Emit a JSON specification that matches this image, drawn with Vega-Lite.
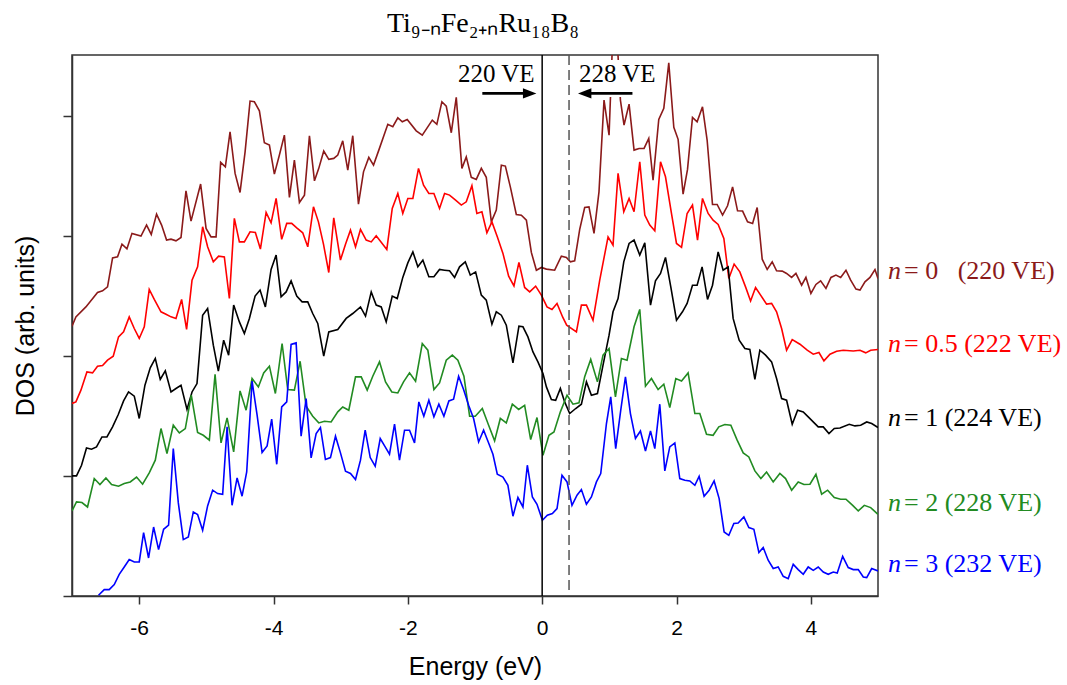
{
  "$schema": "https://vega.github.io/schema/vega-lite/v6.json",
  "width": 806,
  "height": 541,
  "autosize": "none",
  "padding": {"left": 72, "top": 55, "right": 189, "bottom": 89},
  "background": "white",
  "title": {"text": "Ti₉₋ₙFe₂₊ₙRu₁₈B₈", "font": "Liberation Serif", "fontSize": 28, "fontWeight": "normal", "color": "#000", "anchor": "middle", "offset": 16, "dx": 8},
  "config": {
    "view": {"stroke": "#333", "strokeWidth": 1.5},
    "axis": {"grid": false, "domainColor": "#333", "tickColor": "#333", "domainWidth": 1.5, "tickWidth": 1.5, "labelColor": "#000", "titleColor": "#000", "labelFont": "Liberation Sans", "titleFont": "Liberation Sans", "titleFontWeight": "normal"}
  },
  "datasets": {
    "dos": [
      {"n":"0","E":-7.0,"DOS":2.249},{"n":"0","E":-6.942,"DOS":2.327},{"n":"0","E":-6.793,"DOS":2.41},{"n":"0","E":-6.62,"DOS":2.53},{"n":"0","E":-6.545,"DOS":2.544},{"n":"0","E":-6.471,"DOS":2.577},{"n":"0","E":-6.396,"DOS":2.819},{"n":"0","E":-6.322,"DOS":2.827},{"n":"0","E":-6.256,"DOS":2.933},{"n":"0","E":-6.182,"DOS":2.894},{"n":"0","E":-6.107,"DOS":3.023},{"n":"0","E":-5.973,"DOS":3.0},{"n":"0","E":-5.89,"DOS":3.092},{"n":"0","E":-5.82,"DOS":3.014},{"n":"0","E":-5.741,"DOS":3.184},{"n":"0","E":-5.666,"DOS":3.092},{"n":"0","E":-5.592,"DOS":2.967},{"n":"0","E":-5.526,"DOS":2.975},{"n":"0","E":-5.452,"DOS":2.961},{"n":"0","E":-5.377,"DOS":2.989},{"n":"0","E":-5.303,"DOS":3.378},{"n":"0","E":-5.228,"DOS":3.125},{"n":"0","E":-5.085,"DOS":3.434},{"n":"0","E":-5.004,"DOS":3.064},{"n":"0","E":-4.93,"DOS":2.994},{"n":"0","E":-4.855,"DOS":2.994},{"n":"0","E":-4.787,"DOS":3.615},{"n":"0","E":-4.717,"DOS":3.578},{"n":"0","E":-4.647,"DOS":3.87},{"n":"0","E":-4.572,"DOS":3.523},{"n":"0","E":-4.498,"DOS":3.364},{"n":"0","E":-4.423,"DOS":3.703},{"n":"0","E":-4.349,"DOS":4.126},{"n":"0","E":-4.285,"DOS":4.12},{"n":"0","E":-4.21,"DOS":4.045},{"n":"0","E":-4.136,"DOS":3.778},{"n":"0","E":-4.061,"DOS":3.759},{"n":"0","E":-3.987,"DOS":3.517},{"n":"0","E":-3.912,"DOS":3.676},{"n":"0","E":-3.838,"DOS":3.842},{"n":"0","E":-3.763,"DOS":3.323},{"n":"0","E":-3.689,"DOS":3.634},{"n":"0","E":-3.614,"DOS":3.281},{"n":"0","E":-3.539,"DOS":3.342},{"n":"0","E":-3.465,"DOS":3.837},{"n":"0","E":-3.39,"DOS":3.461},{"n":"0","E":-3.326,"DOS":3.565},{"n":"0","E":-3.252,"DOS":3.709},{"n":"0","E":-3.177,"DOS":3.64},{"n":"0","E":-3.103,"DOS":3.648},{"n":"0","E":-3.043,"DOS":3.676},{"n":"0","E":-2.969,"DOS":3.795},{"n":"0","E":-2.894,"DOS":3.55},{"n":"0","E":-2.82,"DOS":3.837},{"n":"0","E":-2.735,"DOS":3.267},{"n":"0","E":-2.66,"DOS":3.536},{"n":"0","E":-2.581,"DOS":3.656},{"n":"0","E":-2.511,"DOS":3.592},{"n":"0","E":-2.432,"DOS":3.717},{"n":"0","E":-2.298,"DOS":3.932},{"n":"0","E":-2.224,"DOS":3.912},{"n":"0","E":-2.149,"DOS":3.987},{"n":"0","E":-2.083,"DOS":3.953},{"n":"0","E":-2.009,"DOS":3.973},{"n":"0","E":-1.875,"DOS":3.878},{"n":"0","E":-1.785,"DOS":3.842},{"n":"0","E":-1.636,"DOS":3.967},{"n":"0","E":-1.568,"DOS":3.932},{"n":"0","E":-1.493,"DOS":4.12},{"n":"0","E":-1.428,"DOS":4.084},{"n":"0","E":-1.353,"DOS":3.862},{"n":"0","E":-1.279,"DOS":4.157},{"n":"0","E":-1.195,"DOS":3.565},{"n":"0","E":-1.13,"DOS":3.661},{"n":"0","E":-1.055,"DOS":3.49},{"n":"0","E":-0.981,"DOS":3.473},{"n":"0","E":-0.906,"DOS":3.565},{"n":"0","E":-0.832,"DOS":3.49},{"n":"0","E":-0.757,"DOS":3.119},{"n":"0","E":-0.683,"DOS":3.217},{"n":"0","E":-0.608,"DOS":3.592},{"n":"0","E":-0.548,"DOS":3.584},{"n":"0","E":-0.474,"DOS":3.411},{"n":"0","E":-0.385,"DOS":3.181},{"n":"0","E":-0.31,"DOS":3.175},{"n":"0","E":-0.235,"DOS":3.133},{"n":"0","E":-0.161,"DOS":2.864},{"n":"0","E":-0.086,"DOS":2.716},{"n":"0","E":-0.012,"DOS":2.739},{"n":"0","E":0.063,"DOS":2.725},{"n":"0","E":0.186,"DOS":2.716},{"n":"0","E":0.286,"DOS":2.833},{"n":"0","E":0.361,"DOS":2.822},{"n":"0","E":0.42,"DOS":2.786},{"n":"0","E":0.484,"DOS":2.794},{"n":"0","E":0.559,"DOS":3.056},{"n":"0","E":0.633,"DOS":3.239},{"n":"0","E":0.697,"DOS":3.244},{"n":"0","E":0.772,"DOS":3.023},{"n":"0","E":0.846,"DOS":3.369},{"n":"0","E":0.921,"DOS":4.134},{"n":"0","E":0.996,"DOS":3.842},{"n":"0","E":1.043,"DOS":4.551},{"n":"0","E":1.125,"DOS":4.551},{"n":"0","E":1.165,"DOS":4.134},{"n":"0","E":1.219,"DOS":3.926},{"n":"0","E":1.294,"DOS":4.101},{"n":"0","E":1.368,"DOS":3.717},{"n":"0","E":1.443,"DOS":3.731},{"n":"0","E":1.517,"DOS":3.731},{"n":"0","E":1.587,"DOS":3.815},{"n":"0","E":1.651,"DOS":3.467},{"n":"0","E":1.736,"DOS":3.973},{"n":"0","E":1.811,"DOS":4.065},{"n":"0","E":1.885,"DOS":4.445},{"n":"0","E":1.96,"DOS":3.907},{"n":"0","E":2.024,"DOS":3.807},{"n":"0","E":2.098,"DOS":3.35},{"n":"0","E":2.164,"DOS":3.556},{"n":"0","E":2.238,"DOS":3.99},{"n":"0","E":2.307,"DOS":3.953},{"n":"0","E":2.387,"DOS":4.078},{"n":"0","E":2.456,"DOS":3.801},{"n":"0","E":2.536,"DOS":3.264},{"n":"0","E":2.605,"DOS":3.264},{"n":"0","E":2.686,"DOS":3.175},{"n":"0","E":2.76,"DOS":3.253},{"n":"0","E":2.835,"DOS":3.411},{"n":"0","E":2.909,"DOS":3.211},{"n":"0","E":2.984,"DOS":3.209},{"n":"0","E":3.058,"DOS":3.119},{"n":"0","E":3.133,"DOS":3.106},{"n":"0","E":3.201,"DOS":3.239},{"n":"0","E":3.276,"DOS":2.808},{"n":"0","E":3.35,"DOS":2.722},{"n":"0","E":3.425,"DOS":2.786},{"n":"0","E":3.49,"DOS":2.711},{"n":"0","E":3.574,"DOS":2.708},{"n":"0","E":3.639,"DOS":2.689},{"n":"0","E":3.714,"DOS":2.656},{"n":"0","E":3.778,"DOS":2.689},{"n":"0","E":3.863,"DOS":2.591},{"n":"0","E":3.927,"DOS":2.656},{"n":"0","E":4.001,"DOS":2.522},{"n":"0","E":4.076,"DOS":2.597},{"n":"0","E":4.146,"DOS":2.627},{"n":"0","E":4.225,"DOS":2.564},{"n":"0","E":4.3,"DOS":2.656},{"n":"0","E":4.374,"DOS":2.675},{"n":"0","E":4.444,"DOS":2.656},{"n":"0","E":4.523,"DOS":2.716},{"n":"0","E":4.593,"DOS":2.633},{"n":"0","E":4.672,"DOS":2.558},{"n":"0","E":4.732,"DOS":2.55},{"n":"0","E":4.806,"DOS":2.619},{"n":"0","E":4.881,"DOS":2.656},{"n":"0","E":4.955,"DOS":2.722},{"n":"0","E":5.0,"DOS":2.647},

      {"n":"0.5","E":-7.0,"DOS":1.605},{"n":"0.5","E":-6.942,"DOS":1.618},{"n":"0.5","E":-6.867,"DOS":1.716},{"n":"0.5","E":-6.778,"DOS":1.868},{"n":"0.5","E":-6.694,"DOS":1.86},{"n":"0.5","E":-6.62,"DOS":1.916},{"n":"0.5","E":-6.545,"DOS":1.922},{"n":"0.5","E":-6.471,"DOS":1.966},{"n":"0.5","E":-6.386,"DOS":1.999},{"n":"0.5","E":-6.307,"DOS":2.16},{"n":"0.5","E":-6.232,"DOS":2.202},{"n":"0.5","E":-6.148,"DOS":2.327},{"n":"0.5","E":-6.073,"DOS":2.23},{"n":"0.5","E":-5.999,"DOS":2.147},{"n":"0.5","E":-5.924,"DOS":2.244},{"n":"0.5","E":-5.85,"DOS":2.555},{"n":"0.5","E":-5.775,"DOS":2.472},{"n":"0.5","E":-5.675,"DOS":2.369},{"n":"0.5","E":-5.601,"DOS":2.349},{"n":"0.5","E":-5.526,"DOS":2.327},{"n":"0.5","E":-5.452,"DOS":2.314},{"n":"0.5","E":-5.368,"DOS":2.472},{"n":"0.5","E":-5.294,"DOS":2.222},{"n":"0.5","E":-5.213,"DOS":2.633},{"n":"0.5","E":-5.13,"DOS":2.744},{"n":"0.5","E":-5.055,"DOS":3.078},{"n":"0.5","E":-4.981,"DOS":2.911},{"n":"0.5","E":-4.896,"DOS":2.786},{"n":"0.5","E":-4.817,"DOS":2.833},{"n":"0.5","E":-4.732,"DOS":2.827},{"n":"0.5","E":-4.657,"DOS":2.48},{"n":"0.5","E":-4.583,"DOS":3.148},{"n":"0.5","E":-4.508,"DOS":2.952},{"n":"0.5","E":-4.434,"DOS":2.952},{"n":"0.5","E":-4.349,"DOS":3.036},{"n":"0.5","E":-4.27,"DOS":3.031},{"n":"0.5","E":-4.195,"DOS":2.892},{"n":"0.5","E":-4.11,"DOS":3.198},{"n":"0.5","E":-4.036,"DOS":3.111},{"n":"0.5","E":-3.961,"DOS":3.314},{"n":"0.5","E":-3.878,"DOS":2.973},{"n":"0.5","E":-3.803,"DOS":3.106},{"n":"0.5","E":-3.729,"DOS":3.106},{"n":"0.5","E":-3.654,"DOS":3.069},{"n":"0.5","E":-3.565,"DOS":3.028},{"n":"0.5","E":-3.49,"DOS":2.911},{"n":"0.5","E":-3.405,"DOS":3.244},{"n":"0.5","E":-3.331,"DOS":3.119},{"n":"0.5","E":-3.256,"DOS":2.933},{"n":"0.5","E":-3.177,"DOS":2.697},{"n":"0.5","E":-3.103,"DOS":3.153},{"n":"0.5","E":-3.003,"DOS":2.8},{"n":"0.5","E":-2.928,"DOS":2.933},{"n":"0.5","E":-2.854,"DOS":3.05},{"n":"0.5","E":-2.779,"DOS":2.911},{"n":"0.5","E":-2.705,"DOS":3.056},{"n":"0.5","E":-2.62,"DOS":2.967},{"n":"0.5","E":-2.545,"DOS":2.952},{"n":"0.5","E":-2.471,"DOS":3.003},{"n":"0.5","E":-2.313,"DOS":2.889},{"n":"0.5","E":-2.232,"DOS":3.231},{"n":"0.5","E":-2.149,"DOS":3.356},{"n":"0.5","E":-2.075,"DOS":3.189},{"n":"0.5","E":-2.0,"DOS":3.314},{"n":"0.5","E":-1.925,"DOS":3.314},{"n":"0.5","E":-1.841,"DOS":3.565},{"n":"0.5","E":-1.766,"DOS":3.425},{"n":"0.5","E":-1.687,"DOS":3.356},{"n":"0.5","E":-1.612,"DOS":3.356},{"n":"0.5","E":-1.528,"DOS":3.231},{"n":"0.5","E":-1.453,"DOS":3.356},{"n":"0.5","E":-1.379,"DOS":3.342},{"n":"0.5","E":-1.289,"DOS":3.3},{"n":"0.5","E":-1.204,"DOS":3.259},{"n":"0.5","E":-1.13,"DOS":3.286},{"n":"0.5","E":-1.046,"DOS":3.42},{"n":"0.5","E":-0.972,"DOS":3.189},{"n":"0.5","E":-0.897,"DOS":3.203},{"n":"0.5","E":-0.823,"DOS":3.028},{"n":"0.5","E":-0.748,"DOS":3.119},{"n":"0.5","E":-0.668,"DOS":2.994},{"n":"0.5","E":-0.584,"DOS":2.856},{"n":"0.5","E":-0.499,"DOS":2.666},{"n":"0.5","E":-0.42,"DOS":2.585},{"n":"0.5","E":-0.346,"DOS":2.781},{"n":"0.5","E":-0.261,"DOS":2.572},{"n":"0.5","E":-0.186,"DOS":2.535},{"n":"0.5","E":-0.097,"DOS":2.583},{"n":"0.5","E":-0.012,"DOS":2.508},{"n":"0.5","E":0.072,"DOS":2.41},{"n":"0.5","E":0.146,"DOS":2.389},{"n":"0.5","E":0.221,"DOS":2.439},{"n":"0.5","E":0.306,"DOS":2.324},{"n":"0.5","E":0.365,"DOS":2.258},{"n":"0.5","E":0.51,"DOS":2.202},{"n":"0.5","E":0.584,"DOS":2.425},{"n":"0.5","E":0.659,"DOS":2.425},{"n":"0.5","E":0.757,"DOS":2.299},{"n":"0.5","E":0.857,"DOS":2.633},{"n":"0.5","E":0.981,"DOS":2.994},{"n":"0.5","E":1.055,"DOS":2.925},{"n":"0.5","E":1.13,"DOS":3.523},{"n":"0.5","E":1.215,"DOS":3.203},{"n":"0.5","E":1.294,"DOS":3.314},{"n":"0.5","E":1.368,"DOS":3.203},{"n":"0.5","E":1.453,"DOS":3.62},{"n":"0.5","E":1.528,"DOS":3.175},{"n":"0.5","E":1.602,"DOS":3.092},{"n":"0.5","E":1.677,"DOS":3.044},{"n":"0.5","E":1.762,"DOS":3.62},{"n":"0.5","E":1.836,"DOS":3.495},{"n":"0.5","E":1.925,"DOS":3.189},{"n":"0.5","E":2.0,"DOS":2.939},{"n":"0.5","E":2.075,"DOS":2.906},{"n":"0.5","E":2.158,"DOS":3.189},{"n":"0.5","E":2.238,"DOS":3.259},{"n":"0.5","E":2.313,"DOS":2.967},{"n":"0.5","E":2.387,"DOS":3.314},{"n":"0.5","E":2.471,"DOS":3.189},{"n":"0.5","E":2.545,"DOS":3.133},{"n":"0.5","E":2.62,"DOS":3.098},{"n":"0.5","E":2.705,"DOS":2.981},{"n":"0.5","E":2.779,"DOS":2.647},{"n":"0.5","E":2.858,"DOS":2.767},{"n":"0.5","E":2.943,"DOS":2.702},{"n":"0.5","E":3.028,"DOS":2.577},{"n":"0.5","E":3.103,"DOS":2.46},{"n":"0.5","E":3.177,"DOS":2.572},{"n":"0.5","E":3.252,"DOS":2.508},{"n":"0.5","E":3.341,"DOS":2.433},{"n":"0.5","E":3.416,"DOS":2.439},{"n":"0.5","E":3.49,"DOS":2.369},{"n":"0.5","E":3.565,"DOS":2.23},{"n":"0.5","E":3.639,"DOS":2.049},{"n":"0.5","E":3.723,"DOS":2.138},{"n":"0.5","E":3.838,"DOS":2.099},{"n":"0.5","E":3.946,"DOS":2.049},{"n":"0.5","E":4.036,"DOS":2.016},{"n":"0.5","E":4.121,"DOS":2.03},{"n":"0.5","E":4.195,"DOS":1.96},{"n":"0.5","E":4.285,"DOS":2.016},{"n":"0.5","E":4.384,"DOS":2.041},{"n":"0.5","E":4.483,"DOS":2.049},{"n":"0.5","E":4.632,"DOS":2.043},{"n":"0.5","E":4.732,"DOS":2.049},{"n":"0.5","E":4.817,"DOS":2.027},{"n":"0.5","E":4.891,"DOS":2.049},{"n":"0.5","E":5.0,"DOS":2.055},

      {"n":"1","E":-7.0,"DOS":1.001},{"n":"1","E":-6.933,"DOS":1.001},{"n":"1","E":-6.858,"DOS":1.09},{"n":"1","E":-6.784,"DOS":1.234},{"n":"1","E":-6.709,"DOS":1.224},{"n":"1","E":-6.635,"DOS":1.243},{"n":"1","E":-6.554,"DOS":1.326},{"n":"1","E":-6.48,"DOS":1.326},{"n":"1","E":-6.396,"DOS":1.41},{"n":"1","E":-6.311,"DOS":1.513},{"n":"1","E":-6.232,"DOS":1.626},{"n":"1","E":-6.158,"DOS":1.701},{"n":"1","E":-6.073,"DOS":1.666},{"n":"1","E":-5.999,"DOS":1.48},{"n":"1","E":-5.914,"DOS":1.757},{"n":"1","E":-5.835,"DOS":1.902},{"n":"1","E":-5.76,"DOS":1.98},{"n":"1","E":-5.686,"DOS":1.805},{"n":"1","E":-5.611,"DOS":1.877},{"n":"1","E":-5.526,"DOS":1.701},{"n":"1","E":-5.452,"DOS":1.73},{"n":"1","E":-5.377,"DOS":1.757},{"n":"1","E":-5.288,"DOS":1.555},{"n":"1","E":-5.213,"DOS":1.701},{"n":"1","E":-5.139,"DOS":1.771},{"n":"1","E":-5.055,"DOS":2.341},{"n":"1","E":-4.981,"DOS":2.397},{"n":"1","E":-4.896,"DOS":2.091},{"n":"1","E":-4.821,"DOS":1.874},{"n":"1","E":-4.742,"DOS":2.133},{"n":"1","E":-4.668,"DOS":2.008},{"n":"1","E":-4.593,"DOS":2.425},{"n":"1","E":-4.508,"DOS":2.285},{"n":"1","E":-4.434,"DOS":2.188},{"n":"1","E":-4.359,"DOS":2.314},{"n":"1","E":-4.274,"DOS":2.5},{"n":"1","E":-4.2,"DOS":2.55},{"n":"1","E":-4.121,"DOS":2.41},{"n":"1","E":-4.036,"DOS":2.722},{"n":"1","E":-3.961,"DOS":2.842},{"n":"1","E":-3.887,"DOS":2.494},{"n":"1","E":-3.812,"DOS":2.535},{"n":"1","E":-3.738,"DOS":2.627},{"n":"1","E":-3.654,"DOS":2.5},{"n":"1","E":-3.574,"DOS":2.452},{"n":"1","E":-3.49,"DOS":2.452},{"n":"1","E":-3.416,"DOS":2.355},{"n":"1","E":-3.341,"DOS":2.272},{"n":"1","E":-3.252,"DOS":1.999},{"n":"1","E":-3.177,"DOS":2.202},{"n":"1","E":-3.043,"DOS":2.222},{"n":"1","E":-2.918,"DOS":2.314},{"n":"1","E":-2.82,"DOS":2.355},{"n":"1","E":-2.705,"DOS":2.41},{"n":"1","E":-2.63,"DOS":2.333},{"n":"1","E":-2.545,"DOS":2.535},{"n":"1","E":-2.471,"DOS":2.425},{"n":"1","E":-2.396,"DOS":2.41},{"n":"1","E":-2.322,"DOS":2.285},{"n":"1","E":-2.232,"DOS":2.5},{"n":"1","E":-2.158,"DOS":2.48},{"n":"1","E":-2.075,"DOS":2.656},{"n":"1","E":-2.0,"DOS":2.777},{"n":"1","E":-1.925,"DOS":2.869},{"n":"1","E":-1.851,"DOS":2.744},{"n":"1","E":-1.776,"DOS":2.8},{"n":"1","E":-1.687,"DOS":2.661},{"n":"1","E":-1.612,"DOS":2.661},{"n":"1","E":-1.528,"DOS":2.722},{"n":"1","E":-1.453,"DOS":2.716},{"n":"1","E":-1.379,"DOS":2.711},{"n":"1","E":-1.304,"DOS":2.656},{"n":"1","E":-1.23,"DOS":2.744},{"n":"1","E":-1.145,"DOS":2.786},{"n":"1","E":-1.07,"DOS":2.675},{"n":"1","E":-0.991,"DOS":2.702},{"n":"1","E":-0.906,"DOS":2.508},{"n":"1","E":-0.832,"DOS":2.466},{"n":"1","E":-0.748,"DOS":2.266},{"n":"1","E":-0.683,"DOS":2.369},{"n":"1","E":-0.608,"DOS":2.341},{"n":"1","E":-0.534,"DOS":2.258},{"n":"1","E":-0.435,"DOS":1.943},{"n":"1","E":-0.346,"DOS":2.249},{"n":"1","E":-0.286,"DOS":2.244},{"n":"1","E":-0.212,"DOS":2.16},{"n":"1","E":-0.137,"DOS":2.035},{"n":"1","E":-0.063,"DOS":1.952},{"n":"1","E":0.012,"DOS":1.855},{"n":"1","E":0.063,"DOS":1.743},{"n":"1","E":0.137,"DOS":1.638},{"n":"1","E":0.201,"DOS":1.632},{"n":"1","E":0.271,"DOS":1.73},{"n":"1","E":0.335,"DOS":1.618},{"n":"1","E":0.41,"DOS":1.521},{"n":"1","E":0.499,"DOS":1.563},{"n":"1","E":0.584,"DOS":1.599},{"n":"1","E":0.659,"DOS":1.785},{"n":"1","E":0.733,"DOS":1.674},{"n":"1","E":0.823,"DOS":1.688},{"n":"1","E":0.906,"DOS":1.924},{"n":"1","E":0.996,"DOS":2.174},{"n":"1","E":1.055,"DOS":2.369},{"n":"1","E":1.13,"DOS":2.48},{"n":"1","E":1.215,"DOS":2.786},{"n":"1","E":1.294,"DOS":2.939},{"n":"1","E":1.368,"DOS":2.967},{"n":"1","E":1.453,"DOS":2.842},{"n":"1","E":1.528,"DOS":2.944},{"n":"1","E":1.613,"DOS":2.425},{"n":"1","E":1.687,"DOS":2.627},{"n":"1","E":1.762,"DOS":2.689},{"n":"1","E":1.836,"DOS":2.822},{"n":"1","E":1.915,"DOS":2.577},{"n":"1","E":2.0,"DOS":2.299},{"n":"1","E":2.089,"DOS":2.369},{"n":"1","E":2.158,"DOS":2.439},{"n":"1","E":2.238,"DOS":2.591},{"n":"1","E":2.307,"DOS":2.591},{"n":"1","E":2.381,"DOS":2.744},{"n":"1","E":2.462,"DOS":2.472},{"n":"1","E":2.536,"DOS":2.591},{"n":"1","E":2.62,"DOS":2.869},{"n":"1","E":2.694,"DOS":2.716},{"n":"1","E":2.769,"DOS":2.744},{"n":"1","E":2.843,"DOS":2.314},{"n":"1","E":2.933,"DOS":2.133},{"n":"1","E":3.018,"DOS":2.063},{"n":"1","E":3.092,"DOS":2.055},{"n":"1","E":3.167,"DOS":1.805},{"n":"1","E":3.241,"DOS":2.049},{"n":"1","E":3.326,"DOS":2.008},{"n":"1","E":3.416,"DOS":1.952},{"n":"1","E":3.49,"DOS":1.813},{"n":"1","E":3.565,"DOS":1.646},{"n":"1","E":3.639,"DOS":1.632},{"n":"1","E":3.723,"DOS":1.432},{"n":"1","E":3.803,"DOS":1.549},{"n":"1","E":3.887,"DOS":1.535},{"n":"1","E":3.961,"DOS":1.493},{"n":"1","E":4.11,"DOS":1.41},{"n":"1","E":4.185,"DOS":1.41},{"n":"1","E":4.27,"DOS":1.354},{"n":"1","E":4.349,"DOS":1.396},{"n":"1","E":4.434,"DOS":1.401},{"n":"1","E":4.572,"DOS":1.432},{"n":"1","E":4.657,"DOS":1.418},{"n":"1","E":4.742,"DOS":1.424},{"n":"1","E":4.832,"DOS":1.451},{"n":"1","E":4.906,"DOS":1.438},{"n":"1","E":5.0,"DOS":1.405},

      {"n":"2","E":-7.0,"DOS":0.709},{"n":"2","E":-6.933,"DOS":0.784},{"n":"2","E":-6.852,"DOS":0.779},{"n":"2","E":-6.769,"DOS":0.742},{"n":"2","E":-6.669,"DOS":0.979},{"n":"2","E":-6.584,"DOS":0.929},{"n":"2","E":-6.495,"DOS":0.984},{"n":"2","E":-6.411,"DOS":0.929},{"n":"2","E":-6.307,"DOS":0.915},{"n":"2","E":-6.222,"DOS":0.937},{"n":"2","E":-6.133,"DOS":0.951},{"n":"2","E":-6.039,"DOS":0.992},{"n":"2","E":-5.949,"DOS":0.932},{"n":"2","E":-5.85,"DOS":1.026},{"n":"2","E":-5.76,"DOS":1.132},{"n":"2","E":-5.675,"DOS":1.396},{"n":"2","E":-5.586,"DOS":1.188},{"n":"2","E":-5.492,"DOS":1.424},{"n":"2","E":-5.402,"DOS":1.359},{"n":"2","E":-5.313,"DOS":1.396},{"n":"2","E":-5.224,"DOS":1.674},{"n":"2","E":-5.13,"DOS":1.363},{"n":"2","E":-5.045,"DOS":1.34},{"n":"2","E":-4.955,"DOS":1.299},{"n":"2","E":-4.87,"DOS":1.849},{"n":"2","E":-4.781,"DOS":1.276},{"n":"2","E":-4.691,"DOS":1.485},{"n":"2","E":-4.593,"DOS":1.201},{"n":"2","E":-4.498,"DOS":1.71},{"n":"2","E":-4.408,"DOS":1.549},{"n":"2","E":-4.319,"DOS":1.813},{"n":"2","E":-4.225,"DOS":1.743},{"n":"2","E":-4.146,"DOS":1.86},{"n":"2","E":-4.061,"DOS":1.916},{"n":"2","E":-3.972,"DOS":1.688},{"n":"2","E":-3.872,"DOS":2.105},{"n":"2","E":-3.788,"DOS":1.721},{"n":"2","E":-3.689,"DOS":1.716},{"n":"2","E":-3.604,"DOS":1.957},{"n":"2","E":-3.514,"DOS":1.582},{"n":"2","E":-3.416,"DOS":1.499},{"n":"2","E":-3.326,"DOS":1.443},{"n":"2","E":-3.241,"DOS":1.457},{"n":"2","E":-3.142,"DOS":1.451},{"n":"2","E":-3.043,"DOS":1.535},{"n":"2","E":-2.969,"DOS":1.576},{"n":"2","E":-2.879,"DOS":1.549},{"n":"2","E":-2.779,"DOS":1.827},{"n":"2","E":-2.694,"DOS":1.827},{"n":"2","E":-2.605,"DOS":1.716},{"n":"2","E":-2.522,"DOS":1.832},{"n":"2","E":-2.422,"DOS":1.952},{"n":"2","E":-2.332,"DOS":1.785},{"n":"2","E":-2.238,"DOS":1.701},{"n":"2","E":-2.149,"DOS":1.693},{"n":"2","E":-2.064,"DOS":1.785},{"n":"2","E":-1.975,"DOS":1.86},{"n":"2","E":-1.885,"DOS":1.791},{"n":"2","E":-1.785,"DOS":2.105},{"n":"2","E":-1.702,"DOS":2.049},{"n":"2","E":-1.612,"DOS":1.721},{"n":"2","E":-1.528,"DOS":1.776},{"n":"2","E":-1.428,"DOS":1.966},{"n":"2","E":-1.338,"DOS":2.008},{"n":"2","E":-1.255,"DOS":1.966},{"n":"2","E":-1.165,"DOS":1.832},{"n":"2","E":-1.08,"DOS":1.499},{"n":"2","E":-0.996,"DOS":1.499},{"n":"2","E":-0.891,"DOS":1.563},{"n":"2","E":-0.797,"DOS":1.424},{"n":"2","E":-0.708,"DOS":1.293},{"n":"2","E":-0.623,"DOS":1.48},{"n":"2","E":-0.534,"DOS":1.443},{"n":"2","E":-0.444,"DOS":1.599},{"n":"2","E":-0.35,"DOS":1.555},{"n":"2","E":-0.261,"DOS":1.59},{"n":"2","E":-0.171,"DOS":1.304},{"n":"2","E":-0.077,"DOS":1.488},{"n":"2","E":0.012,"DOS":1.173},{"n":"2","E":0.101,"DOS":1.34},{"n":"2","E":0.176,"DOS":1.368},{"n":"2","E":0.271,"DOS":1.535},{"n":"2","E":0.37,"DOS":1.674},{"n":"2","E":0.459,"DOS":1.599},{"n":"2","E":0.548,"DOS":1.61},{"n":"2","E":0.633,"DOS":1.827},{"n":"2","E":0.723,"DOS":1.972},{"n":"2","E":0.823,"DOS":1.785},{"n":"2","E":0.906,"DOS":2.008},{"n":"2","E":0.996,"DOS":2.063},{"n":"2","E":1.091,"DOS":1.66},{"n":"2","E":1.18,"DOS":1.98},{"n":"2","E":1.264,"DOS":1.966},{"n":"2","E":1.368,"DOS":2.244},{"n":"2","E":1.453,"DOS":2.389},{"n":"2","E":1.538,"DOS":1.749},{"n":"2","E":1.627,"DOS":1.813},{"n":"2","E":1.726,"DOS":1.721},{"n":"2","E":1.811,"DOS":1.766},{"n":"2","E":1.9,"DOS":1.571},{"n":"2","E":1.99,"DOS":1.813},{"n":"2","E":2.075,"DOS":1.793},{"n":"2","E":2.173,"DOS":1.86},{"n":"2","E":2.273,"DOS":1.521},{"n":"2","E":2.347,"DOS":1.521},{"n":"2","E":2.447,"DOS":1.349},{"n":"2","E":2.545,"DOS":1.34},{"n":"2","E":2.63,"DOS":1.41},{"n":"2","E":2.72,"DOS":1.43},{"n":"2","E":2.809,"DOS":1.424},{"n":"2","E":2.903,"DOS":1.299},{"n":"2","E":2.993,"DOS":1.193},{"n":"2","E":3.077,"DOS":1.159},{"n":"2","E":3.167,"DOS":1.043},{"n":"2","E":3.256,"DOS":0.979},{"n":"2","E":3.341,"DOS":1.034},{"n":"2","E":3.44,"DOS":0.951},{"n":"2","E":3.539,"DOS":1.021},{"n":"2","E":3.624,"DOS":0.979},{"n":"2","E":3.714,"DOS":0.882},{"n":"2","E":3.812,"DOS":0.951},{"n":"2","E":3.897,"DOS":0.929},{"n":"2","E":3.987,"DOS":0.932},{"n":"2","E":4.076,"DOS":1.015},{"n":"2","E":4.161,"DOS":0.848},{"n":"2","E":4.25,"DOS":0.882},{"n":"2","E":4.349,"DOS":0.821},{"n":"2","E":4.444,"DOS":0.807},{"n":"2","E":4.523,"DOS":0.807},{"n":"2","E":4.623,"DOS":0.756},{"n":"2","E":4.706,"DOS":0.709},{"n":"2","E":4.796,"DOS":0.756},{"n":"2","E":4.891,"DOS":0.737},{"n":"2","E":5.0,"DOS":0.681},

      {"n":"3","E":-6.605,"DOS":0.006},{"n":"3","E":-6.52,"DOS":0.053},{"n":"3","E":-6.446,"DOS":0.053},{"n":"3","E":-6.371,"DOS":0.095},{"n":"3","E":-6.297,"DOS":0.181},{"n":"3","E":-6.222,"DOS":0.242},{"n":"3","E":-6.148,"DOS":0.304},{"n":"3","E":-6.073,"DOS":0.284},{"n":"3","E":-5.999,"DOS":0.284},{"n":"3","E":-5.934,"DOS":0.529},{"n":"3","E":-5.86,"DOS":0.317},{"n":"3","E":-5.785,"DOS":0.575},{"n":"3","E":-5.711,"DOS":0.387},{"n":"3","E":-5.636,"DOS":0.556},{"n":"3","E":-5.562,"DOS":0.59},{"n":"3","E":-5.492,"DOS":1.229},{"n":"3","E":-5.417,"DOS":0.776},{"n":"3","E":-5.343,"DOS":0.47},{"n":"3","E":-5.268,"DOS":0.492},{"n":"3","E":-5.194,"DOS":0.701},{"n":"3","E":-5.13,"DOS":0.679},{"n":"3","E":-5.055,"DOS":0.548},{"n":"3","E":-4.981,"DOS":0.751},{"n":"3","E":-4.906,"DOS":0.882},{"n":"3","E":-4.832,"DOS":0.854},{"n":"3","E":-4.757,"DOS":0.848},{"n":"3","E":-4.691,"DOS":1.41},{"n":"3","E":-4.617,"DOS":0.756},{"n":"3","E":-4.542,"DOS":0.984},{"n":"3","E":-4.468,"DOS":0.832},{"n":"3","E":-4.399,"DOS":1.034},{"n":"3","E":-4.319,"DOS":1.791},{"n":"3","E":-4.244,"DOS":1.507},{"n":"3","E":-4.17,"DOS":1.196},{"n":"3","E":-4.095,"DOS":1.251},{"n":"3","E":-4.027,"DOS":1.474},{"n":"3","E":-3.952,"DOS":1.098},{"n":"3","E":-3.878,"DOS":1.576},{"n":"3","E":-3.803,"DOS":1.618},{"n":"3","E":-3.738,"DOS":2.097},{"n":"3","E":-3.663,"DOS":2.11},{"n":"3","E":-3.589,"DOS":1.332},{"n":"3","E":-3.514,"DOS":1.646},{"n":"3","E":-3.44,"DOS":1.151},{"n":"3","E":-3.365,"DOS":1.354},{"n":"3","E":-3.301,"DOS":1.405},{"n":"3","E":-3.227,"DOS":1.138},{"n":"3","E":-3.152,"DOS":1.154},{"n":"3","E":-3.077,"DOS":1.332},{"n":"3","E":-3.003,"DOS":1.193},{"n":"3","E":-2.928,"DOS":1.04},{"n":"3","E":-2.854,"DOS":1.021},{"n":"3","E":-2.779,"DOS":0.971},{"n":"3","E":-2.705,"DOS":1.132},{"n":"3","E":-2.635,"DOS":1.382},{"n":"3","E":-2.56,"DOS":1.154},{"n":"3","E":-2.486,"DOS":1.082},{"n":"3","E":-2.411,"DOS":1.313},{"n":"3","E":-2.337,"DOS":1.243},{"n":"3","E":-2.273,"DOS":1.182},{"n":"3","E":-2.198,"DOS":1.432},{"n":"3","E":-2.124,"DOS":1.132},{"n":"3","E":-2.049,"DOS":1.382},{"n":"3","E":-1.975,"DOS":1.382},{"n":"3","E":-1.9,"DOS":1.276},{"n":"3","E":-1.836,"DOS":1.618},{"n":"3","E":-1.762,"DOS":1.499},{"n":"3","E":-1.687,"DOS":1.632},{"n":"3","E":-1.612,"DOS":1.493},{"n":"3","E":-1.538,"DOS":1.599},{"n":"3","E":-1.463,"DOS":1.499},{"n":"3","E":-1.389,"DOS":1.626},{"n":"3","E":-1.319,"DOS":1.641},{"n":"3","E":-1.244,"DOS":1.832},{"n":"3","E":-1.17,"DOS":1.721},{"n":"3","E":-1.095,"DOS":1.59},{"n":"3","E":-1.021,"DOS":1.48},{"n":"3","E":-0.946,"DOS":1.284},{"n":"3","E":-0.872,"DOS":1.382},{"n":"3","E":-0.797,"DOS":1.276},{"n":"3","E":-0.733,"DOS":1.182},{"n":"3","E":-0.668,"DOS":1.015},{"n":"3","E":-0.584,"DOS":0.992},{"n":"3","E":-0.51,"DOS":0.923},{"n":"3","E":-0.435,"DOS":0.665},{"n":"3","E":-0.361,"DOS":0.821},{"n":"3","E":-0.286,"DOS":0.742},{"n":"3","E":-0.221,"DOS":1.09},{"n":"3","E":-0.146,"DOS":0.826},{"n":"3","E":-0.077,"DOS":0.765},{"n":"3","E":0.003,"DOS":0.631},{"n":"3","E":0.077,"DOS":0.673},{"n":"3","E":0.152,"DOS":0.687},{"n":"3","E":0.221,"DOS":0.729},{"n":"3","E":0.295,"DOS":1.007},{"n":"3","E":0.37,"DOS":0.951},{"n":"3","E":0.444,"DOS":0.756},{"n":"3","E":0.519,"DOS":0.84},{"n":"3","E":0.584,"DOS":0.887},{"n":"3","E":0.659,"DOS":0.765},{"n":"3","E":0.733,"DOS":0.826},{"n":"3","E":0.808,"DOS":0.951},{"n":"3","E":0.872,"DOS":1.021},{"n":"3","E":0.957,"DOS":1.438},{"n":"3","E":1.021,"DOS":1.66},{"n":"3","E":1.095,"DOS":1.229},{"n":"3","E":1.17,"DOS":1.549},{"n":"3","E":1.24,"DOS":1.827},{"n":"3","E":1.314,"DOS":1.521},{"n":"3","E":1.389,"DOS":1.313},{"n":"3","E":1.463,"DOS":1.376},{"n":"3","E":1.538,"DOS":1.209},{"n":"3","E":1.613,"DOS":1.376},{"n":"3","E":1.677,"DOS":1.229},{"n":"3","E":1.751,"DOS":1.599},{"n":"3","E":1.826,"DOS":1.043},{"n":"3","E":1.9,"DOS":1.243},{"n":"3","E":1.975,"DOS":1.276},{"n":"3","E":2.049,"DOS":0.979},{"n":"3","E":2.124,"DOS":0.965},{"n":"3","E":2.198,"DOS":0.959},{"n":"3","E":2.273,"DOS":0.923},{"n":"3","E":2.337,"DOS":0.998},{"n":"3","E":2.411,"DOS":0.832},{"n":"3","E":2.486,"DOS":0.882},{"n":"3","E":2.56,"DOS":0.959},{"n":"3","E":2.635,"DOS":0.812},{"n":"3","E":2.709,"DOS":0.534},{"n":"3","E":2.779,"DOS":0.506},{"n":"3","E":2.854,"DOS":0.604},{"n":"3","E":2.918,"DOS":0.609},{"n":"3","E":3.003,"DOS":0.659},{"n":"3","E":3.077,"DOS":0.57},{"n":"3","E":3.152,"DOS":0.556},{"n":"3","E":3.227,"DOS":0.362},{"n":"3","E":3.291,"DOS":0.404},{"n":"3","E":3.365,"DOS":0.298},{"n":"3","E":3.44,"DOS":0.229},{"n":"3","E":3.514,"DOS":0.242},{"n":"3","E":3.589,"DOS":0.164},{"n":"3","E":3.663,"DOS":0.145},{"n":"3","E":3.738,"DOS":0.264},{"n":"3","E":3.812,"DOS":0.22},{"n":"3","E":3.887,"DOS":0.181},{"n":"3","E":3.961,"DOS":0.242},{"n":"3","E":4.036,"DOS":0.214},{"n":"3","E":4.11,"DOS":0.242},{"n":"3","E":4.185,"DOS":0.2},{"n":"3","E":4.259,"DOS":0.181},{"n":"3","E":4.334,"DOS":0.2},{"n":"3","E":4.393,"DOS":0.192},{"n":"3","E":4.474,"DOS":0.331},{"n":"3","E":4.557,"DOS":0.237},{"n":"3","E":4.632,"DOS":0.22},{"n":"3","E":4.706,"DOS":0.22},{"n":"3","E":4.781,"DOS":0.158},{"n":"3","E":4.832,"DOS":0.153},{"n":"3","E":4.906,"DOS":0.229},{"n":"3","E":5.0,"DOS":0.209}
    ],
    "labels": [
      {"n":"0","E":5,"DOS":2.639,"t":"= 0\u00a0\u00a0\u00a0(220 VE)"},
      {"n":"0.5","E":5,"DOS":2.035,"t":"= 0.5 (222 VE)"},
      {"n":"1","E":5,"DOS":1.415,"t":"= 1 (224 VE)"},
      {"n":"2","E":5,"DOS":0.709,"t":"= 2 (228 VE)"},
      {"n":"3","E":5,"DOS":0.2,"t":"= 3 (232 VE)"}
    ]
  },
  "layer": [
    {
      "data": {"name": "dos"},
      "mark": {"type": "line", "strokeWidth": 1.6, "clip": true},
      "encoding": {
        "x": {"field": "E", "type": "quantitative", "scale": {"domain": [-7, 5], "nice": false, "zero": false},
              "axis": {"title": "Energy (eV)", "values": [-6, -4, -2, 0, 2, 4], "labelExpr": "datum.value < 0 ? '-' + abs(datum.value) : '' + datum.value", "labelFontSize": 21, "tickSize": 8, "labelPadding": 13, "titleFontSize": 25, "titlePadding": 16}},
        "y": {"field": "DOS", "type": "quantitative", "scale": {"domain": [0, 4.51], "nice": false, "zero": false},
              "axis": {"title": "DOS (arb. units)", "values": [0, 1, 2, 3, 4], "labels": false, "tickSize": 9, "titleFontSize": 25, "titlePadding": 24}},
        "color": {"field": "n", "type": "nominal", "scale": {"domain": ["0", "0.5", "1", "2", "3"], "range": ["#8b1a1a", "#ff0000", "#000000", "#228b22", "#0000ff"]}, "legend": null},
        "detail": {"field": "n"}
      }
    },
    {
      "data": {"values": [{"E": 0}]},
      "mark": {"type": "rule", "color": "#000", "strokeWidth": 1.5},
      "encoding": {"x": {"field": "E", "type": "quantitative"}}
    },
    {
      "data": {"values": [{"E": 0.4}]},
      "mark": {"type": "rule", "color": "#555", "strokeWidth": 1.5, "strokeDash": [10, 5]},
      "encoding": {"x": {"field": "E", "type": "quantitative"}}
    },
    {
      "data": {"values": [{"E": 0.514, "E2": 1.721, "DOS": 4.159, "DOS2": 4.468}]},
      "mark": {"type": "rect", "fill": "white"},
      "encoding": {
        "x": {"field": "E", "type": "quantitative"},
        "x2": {"field": "E2"},
        "y": {"field": "DOS", "type": "quantitative"},
        "y2": {"field": "DOS2"}
      }
    },
    {
      "data": {"values": [{"E": -0.683, "DOS": 4.287, "t": "220 VE"}, {"E": 1.118, "DOS": 4.287, "t": "228 VE"}]},
      "mark": {"type": "text", "font": "Liberation Serif", "fontSize": 25, "color": "#000", "align": "center", "baseline": "alphabetic"},
      "encoding": {
        "x": {"field": "E", "type": "quantitative"},
        "y": {"field": "DOS", "type": "quantitative"},
        "text": {"field": "t"}
      }
    },
    {
      "data": {"values": [{"E": -0.891, "E2": -0.19, "DOS": 4.19}, {"E": 1.344, "E2": 0.63, "DOS": 4.19}]},
      "mark": {"type": "rule", "color": "#000", "strokeWidth": 2.6},
      "encoding": {
        "x": {"field": "E", "type": "quantitative"},
        "x2": {"field": "E2"},
        "y": {"field": "DOS", "type": "quantitative"}
      }
    },
    {
      "data": {"values": [{"E": -0.186, "DOS": 4.19}]},
      "mark": {"type": "point", "filled": true, "color": "#000", "opacity": 1, "size": 180, "shape": "M-1,-0.75L1,0L-1,0.75Z"},
      "encoding": {
        "x": {"field": "E", "type": "quantitative"},
        "y": {"field": "DOS", "type": "quantitative"}
      }
    },
    {
      "data": {"values": [{"E": 0.633, "DOS": 4.19}]},
      "mark": {"type": "point", "filled": true, "color": "#000", "opacity": 1, "size": 180, "shape": "M1,-0.75L-1,0L1,0.75Z"},
      "encoding": {
        "x": {"field": "E", "type": "quantitative"},
        "y": {"field": "DOS", "type": "quantitative"}
      }
    },
    {
      "data": {"name": "labels"},
      "mark": {"type": "text", "text": "n", "font": "Liberation Serif", "fontSize": 26, "fontStyle": "italic", "align": "left", "baseline": "alphabetic", "dx": 10},
      "encoding": {
        "x": {"field": "E", "type": "quantitative"},
        "y": {"field": "DOS", "type": "quantitative"},
        "color": {"field": "n", "type": "nominal", "legend": null}
      }
    },
    {
      "data": {"name": "labels"},
      "mark": {"type": "text", "font": "Liberation Serif", "fontSize": 26, "align": "left", "baseline": "alphabetic", "dx": 26},
      "encoding": {
        "x": {"field": "E", "type": "quantitative"},
        "y": {"field": "DOS", "type": "quantitative"},
        "color": {"field": "n", "type": "nominal", "legend": null},
        "text": {"field": "t"}
      }
    }
  ]
}
